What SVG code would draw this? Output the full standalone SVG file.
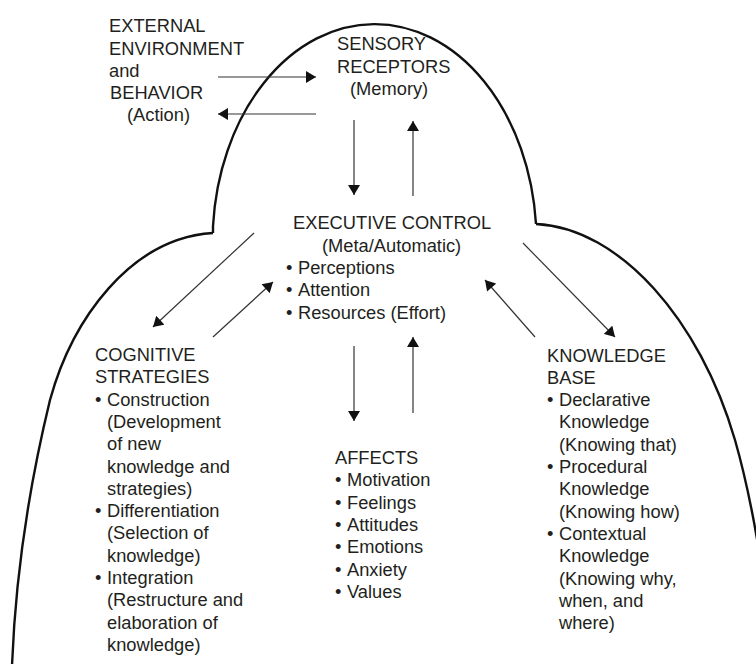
<svg xmlns="http://www.w3.org/2000/svg" width="756" height="664" viewBox="0 0 756 664">
  <style>
    text { font-family: "Liberation Sans", Arial, sans-serif; font-size: 18.3px; fill: #231f20; }
    .outline { fill: none; stroke: #111; stroke-width: 2.4; stroke-linejoin: miter; }
    .conn line { stroke: #333; stroke-width: 1.2; marker-end: url(#ah); }
  </style>
  <defs>
    <marker id="ah" viewBox="0 0 10 12" refX="10" refY="6" markerWidth="11" markerHeight="12" markerUnits="userSpaceOnUse" orient="auto">
      <path d="M0,0 L10,6 L0,12 z" fill="#111"/>
    </marker>
  </defs>

  <rect width="756" height="664" fill="#fff"/>

  <!-- head-shaped outline: dome with shoulders -->
  <g id="outline">
    <path class="outline" d="M213,233 L213,226 A162,218 0 0 1 536,224"/>
    <path class="outline" d="M213,233 C130,238 72,320 50,400 C33,470 16,560 12,666"/>
    <path class="outline" d="M536,224 C620,228 700,320 735,440 C745,475 753,510 762,570"/>
  </g>

  <!-- connectors -->
  <g id="connectors" class="conn">
    <line x1="218" y1="77" x2="316" y2="77"/>
    <line x1="316" y1="114" x2="218" y2="114"/>
    <line x1="354" y1="120" x2="354" y2="195"/>
    <line x1="413" y1="196" x2="413" y2="121"/>
    <line x1="354" y1="346" x2="354" y2="421"/>
    <line x1="413" y1="413" x2="413" y2="337"/>
    <line x1="254" y1="233" x2="153" y2="327"/>
    <line x1="213" y1="337" x2="273" y2="282"/>
    <line x1="523" y1="243" x2="615" y2="337"/>
    <line x1="535" y1="337" x2="485" y2="280"/>
  </g>

  <g id="external">
    <text x="109" y="32">EXTERNAL</text>
    <text x="109" y="54.5">ENVIRONMENT</text>
    <text x="109" y="77">and</text>
    <text x="110" y="99">BEHAVIOR</text>
    <text x="127" y="121">(Action)</text>
  </g>

  <g id="sensory">
    <text x="337" y="50">SENSORY</text>
    <text x="337" y="72.5">RECEPTORS</text>
    <text x="350" y="95">(Memory)</text>
  </g>

  <g id="executive">
    <text x="293" y="229">EXECUTIVE CONTROL</text>
    <text x="322" y="251.5">(Meta/Automatic)</text>
    <text y="273.5"><tspan x="286">•</tspan><tspan x="298">Perceptions</tspan></text>
    <text y="296"><tspan x="286">•</tspan><tspan x="298">Attention</tspan></text>
    <text y="318.5"><tspan x="286">•</tspan><tspan x="298">Resources (Effort)</tspan></text>
  </g>

  <g id="cognitive">
    <text x="95" y="361">COGNITIVE</text>
    <text x="95" y="383.3">STRATEGIES</text>
    <text y="405.6"><tspan x="95">•</tspan><tspan x="107">Construction</tspan></text>
    <text x="107" y="427.9">(Development</text>
    <text x="107" y="450.2">of new</text>
    <text x="107" y="472.5">knowledge and</text>
    <text x="107" y="494.8">strategies)</text>
    <text y="517.1"><tspan x="95">•</tspan><tspan x="107">Differentiation</tspan></text>
    <text x="107" y="539.4">(Selection of</text>
    <text x="107" y="561.7">knowledge)</text>
    <text y="584"><tspan x="95">•</tspan><tspan x="107">Integration</tspan></text>
    <text x="107" y="606.3">(Restructure and</text>
    <text x="107" y="628.6">elaboration of</text>
    <text x="107" y="650.9">knowledge)</text>
  </g>

  <g id="affects">
    <text x="335" y="464">AFFECTS</text>
    <text y="486.3"><tspan x="335">•</tspan><tspan x="347">Motivation</tspan></text>
    <text y="508.6"><tspan x="335">•</tspan><tspan x="347">Feelings</tspan></text>
    <text y="530.9"><tspan x="335">•</tspan><tspan x="347">Attitudes</tspan></text>
    <text y="553.2"><tspan x="335">•</tspan><tspan x="347">Emotions</tspan></text>
    <text y="575.5"><tspan x="335">•</tspan><tspan x="347">Anxiety</tspan></text>
    <text y="597.8"><tspan x="335">•</tspan><tspan x="347">Values</tspan></text>
  </g>

  <g id="knowledge">
    <text x="547" y="361.5">KNOWLEDGE</text>
    <text x="547" y="383.8">BASE</text>
    <text y="406.1"><tspan x="547">•</tspan><tspan x="559">Declarative</tspan></text>
    <text x="559" y="428.4">Knowledge</text>
    <text x="559" y="450.7">(Knowing that)</text>
    <text y="473"><tspan x="547">•</tspan><tspan x="559">Procedural</tspan></text>
    <text x="559" y="495.3">Knowledge</text>
    <text x="559" y="517.6">(Knowing how)</text>
    <text y="539.9"><tspan x="547">•</tspan><tspan x="559">Contextual</tspan></text>
    <text x="559" y="562.2">Knowledge</text>
    <text x="559" y="584.5">(Knowing why,</text>
    <text x="559" y="606.8">when, and</text>
    <text x="559" y="629.1">where)</text>
  </g>
</svg>
